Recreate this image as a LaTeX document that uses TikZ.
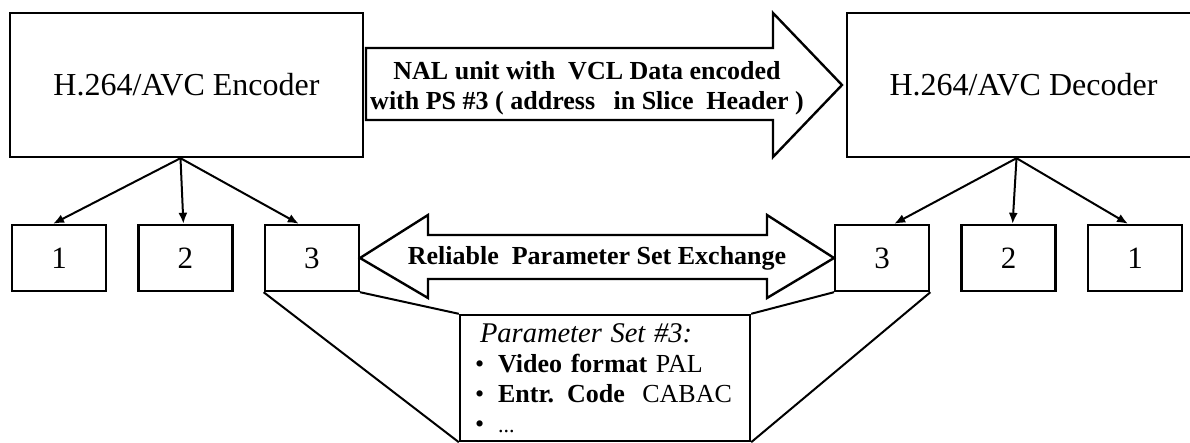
\documentclass[tikz,border=0pt]{standalone}
\usepackage{fontspec}
\setmainfont{Liberation Serif}
\usetikzlibrary{arrows.meta,positioning}

\begin{document}
\begin{tikzpicture}[
x=1pt, y=-1pt,
node distance = 30pt,
line width=2pt,
box/.style = {draw, line width=2.4pt, inner sep=0pt},
codec/.style = {box, minimum width=353pt, minimum height=144pt, font=\fontsize{32}{36}\selectfont},
psbox/.style = {box, minimum width=94pt, minimum height=66pt, font=\fontsize{31}{34}\selectfont},
fat/.style = {draw, line width=2.4pt, line join=miter},
lbl/.style = {font=\bfseries\fontsize{26}{30}\selectfont, align=center},
tip/.style = {-{Latex[length=11pt,width=9pt]}}
]
\useasboundingbox (0,0) rectangle (1190,443);
\clip (0,0) rectangle (1190,443);

\node (enc) [codec] at (186.5,85) {H.264/AVC Encoder};
\node (dec) [codec] at (1023.5,85) {H.264/AVC Decoder};

% parameter sets kept at both ends
\node (e1) [psbox] at (59,258) {1};
\node (e2) [psbox, right=of e1] {2};
\node (e3) [psbox, right=of e2] {3};
\node (d1) [psbox] at (1135,258) {1};
\node (d2) [psbox, left=of d1] {2};
\node (d3) [psbox, left=of d2] {3};

\node (ps) [box, minimum width=290pt, minimum height=126pt, text width=260pt, inner xsep=15pt,
  align=left, font=\fontsize{26}{30}\selectfont] at (605,378)
  {\hspace*{5pt}{\fontsize{28.5}{30}\selectfont\itshape Parameter Set \#3:}\\
   \textbullet\hspace{14pt}\textbf{Video\ format} PAL\\
   \textbullet\hspace{14pt}\textbf{Entr. Code}\ \ CABAC\\
   \textbullet\hspace{14pt}{\fontsize{22}{30}\selectfont ...}};

% big arrows
\draw[fat] (366,48) -- (773,48) -- (773,13) -- (842,85) -- (773,157) -- (773,120) -- (366,120) -- cycle;
\node (nal) [lbl] at (587,88) {NAL unit with\ \ VCL Data encoded\\with PS \#3 ( address\hspace{12pt} in Slice\hspace{6pt} Header )};

\draw[fat] (e3.east) -- (428,215) -- (428,235) -- (767,235) -- (767,215) -- (d3.west)
  -- (767,298) -- (767,279) -- (428,279) -- (428,298) -- cycle;
\node (xchg) [lbl] at (597,258) {Reliable\ \ Parameter Set Exchange};

\coordinate (eo) at ([xshift=-6pt]enc.south);
\coordinate (do) at ([xshift=-7pt]dec.south);
\draw[tip] (eo) -- ([xshift=-6pt]e1.north);
\draw[tip] (eo) -- ([xshift=-2pt]e2.north);
\draw[tip] (eo) -- ([xshift=-13pt]e3.north);
\draw[tip] (do) -- ([xshift=12pt]d3.north);
\draw[tip] (do) -- ([xshift=4pt]d2.north);
\draw[tip] (do) -- ([xshift=-7pt]d1.north);

\draw (e3.south west) -- (ps.south west);
\draw (e3.south east) -- (ps.north west);
\draw (d3.south west) -- (ps.north east);
\draw (d3.south east) -- (ps.south east);

\end{tikzpicture}
\end{document}
